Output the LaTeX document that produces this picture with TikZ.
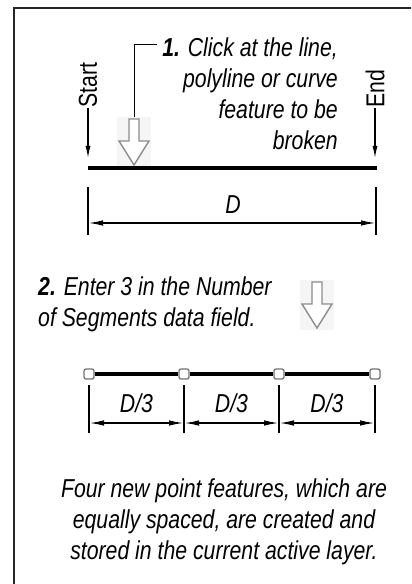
\documentclass[tikz,border=0pt]{standalone}
\usepackage{fontspec}
\setmainfont{Liberation Sans}[FakeStretch=0.82]
\usetikzlibrary{arrows.meta,calc}

\tikzset{
  note/.style={font=\fontsize{26}{31}\selectfont\itshape, inner sep=0pt},
  tag/.style={font=\fontsize{26}{31}\selectfont, inner sep=0pt},
  tagarrow/.style={line width=1.2pt, -{Latex[length=12bp,width=5bp]}},
  dimline/.style={line width=1.6pt, {Latex[length=15bp,width=5.5bp]}-{Latex[length=15bp,width=5.5bp]}},
  dimtick/.style={line width=2pt},
  feature/.style={line width=3.5pt},
  pick/.style={draw=black!45, fill=white, line width=1.4pt, line join=miter},
  vertex/.style={draw=black!55, fill=white, rounded corners=2pt, line width=1.3pt, minimum size=10bp, inner sep=0pt}
}

% hollow pick arrow, #1 = top centre
\newcommand{\pickarrow}[1]{%
  \fill[black!4] ([shift={(-17,-2)}]#1) rectangle ++(34,50);
  \draw[pick] (#1) ++(-5,0) -- ++(10,0) -- ++(0,22) -- ++(10,0) -- ++(-15,24) -- ++(-15,-24) -- ++(10,0) -- cycle;
}

\begin{document}
\begin{tikzpicture}[x=1bp, y=-1bp]
    \useasboundingbox (0,0) rectangle (411,584);
    % Frame
    \draw [line width=2.5pt, black!85] (14,584) -- (14,8) -- (411,8);

    % Step 1
    \node [note, align=right, anchor=north east] (stepone) at (338,38)
        {\textbf{1.} Click at the line,\\polyline or curve\\feature to be\\broken};
    \coordinate (leadin) at (157,45);
    \coordinate (pickone) at (134,119);
    \draw [line width=1pt] (leadin) -| (pickone);
    \pickarrow{pickone}

    % Start and end of the feature
    \node [tag, rotate=90, anchor=west] (start) at (88,108) {Start};
    \node [tag, rotate=90, anchor=west] (finish) at (375,108) {End};
    \coordinate (startpt) at (88,158);
    \coordinate (endpt) at (375,158);
    \draw [tagarrow] (start.west) -- (startpt);
    \draw [tagarrow] (finish.west) -- (endpt);
    \coordinate (fa) at (88,168);
    \coordinate (fb) at (377,168);
    \draw [feature] (fa) -- (fb);

    % Total length
    \draw [dimtick] (88,187) -- (88,235);
    \draw [dimtick] (376,187) -- (376,235);
    \coordinate (da) at (88,223);
    \coordinate (db) at (376,223);
    \draw [dimline] (da) -- (db);
    \node [note] (dlen) at (233,205) {D};

    % Step 2
    \node [note, align=left, anchor=north west] (steptwo) at (38,277)
        {\textbf{2.} Enter 3 in the Number\\of Segments data field.};
    \coordinate (picktwo) at (317,282);
    \pickarrow{picktwo}

    % New point features
    \foreach \i/\x in {0/89,1/184,2/279,3/375} {
        \node [vertex] (p\i) at (\x,374) {};
        \draw [dimtick] (\x,385) -- (\x,433);
    }
    \draw [feature] (p0) -- (p1) -- (p2) -- (p3);
    \foreach \i/\j in {0/1,1/2,2/3} {
        \coordinate (sa) at (p\i |- 0,423);
        \coordinate (sb) at (p\j |- 0,423);
        \draw [dimline] (sa) -- (sb);
        \node [note] (third\i) at ($(sa)!0.5!(sb)+(0,-20)$) {D/3};
    }

    % Result
    \node [note, align=center, anchor=north] (result) at (224,479)
        {Four new point features, which are\\equally spaced, are created and\\stored in the current active layer.};
\end{tikzpicture}
\end{document}
